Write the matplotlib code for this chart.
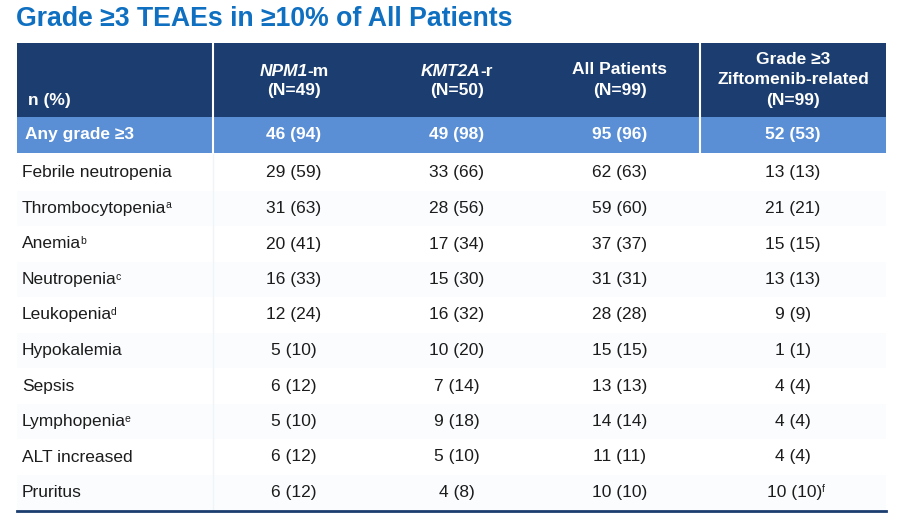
import matplotlib
matplotlib.use("Agg")
import matplotlib.pyplot as plt
from matplotlib.patches import Rectangle

plt.rcParams['font.family'] = ['Liberation Sans', 'DejaVu Sans']

# ---- data ----
title = "Grade \u22653 TEAEs in \u226510% of All Patients"
events = ["Febrile neutropenia", "Thrombocytopenia", "Anemia", "Neutropenia",
          "Leukopenia", "Hypokalemia", "Sepsis", "Lymphopenia", "ALT increased",
          "Pruritus"]
event_notes = ["", "a", "b", "c", "d", "", "", "e", "", ""]
npm1 = ["29 (59)", "31 (63)", "20 (41)", "16 (33)", "12 (24)", "5 (10)", "6 (12)",
        "5 (10)", "6 (12)", "6 (12)"]
kmt2a = ["33 (66)", "28 (56)", "17 (34)", "15 (30)", "16 (32)", "10 (20)", "7 (14)",
         "9 (18)", "5 (10)", "4 (8)"]
all_pts = ["62 (63)", "59 (60)", "37 (37)", "31 (31)", "28 (28)", "15 (15)",
           "13 (13)", "14 (14)", "11 (11)", "10 (10)"]
zifto = ["13 (13)", "21 (21)", "15 (15)", "13 (13)", "9 (9)", "1 (1)", "4 (4)",
         "4 (4)", "4 (4)", "10 (10)"]
zifto_notes = ["", "", "", "", "", "", "", "", "", "f"]
any_label = "Any grade \u22653"
any_row = ["46 (94)", "49 (98)", "95 (96)", "52 (53)"]

NAVY = "#1b3d6f"
LIGHT = "#5a8fd6"
TITLE_C = "#0f6fc0"
TXT = "#1c1c1c"

W, H = 903, 527
fig = plt.figure(figsize=(W / 100, H / 100), dpi=100)
ax = fig.add_axes([0, 0, 1, 1])
ax.set_xlim(0, W)
ax.set_ylim(H, 0)
ax.axis("off")
renderer = fig.canvas.get_renderer()

FS = 12.5
left, right = 17, 886
head_top, head_bot = 43, 117
any_bot = 153
row_h = 35.5
col_x = [22, 294, 457, 620, 793]
seps = [213, 700]


def text_width(t):
    bb = t.get_window_extent(renderer=renderer)
    return bb.width


def pieces(x, y, parts, ha="center"):
    # parts: list of (string, text kwargs, y offset, gap before)
    objs = []
    for s, kw, dy, gap in parts:
        objs.append(ax.text(0, y + dy, s, va="center", ha="left", **kw))
    widths = [text_width(o) for o in objs]
    gaps = [p[3] for p in parts]
    total = sum(widths) + sum(gaps)
    x0 = x - total / 2 if ha == "center" else x
    for o, w, g in zip(objs, widths, gaps):
        x0 += g
        o.set_x(x0)
        x0 += w


# title
ax.text(left - 1, 19, title, fontsize=19.2, fontweight="bold", color=TITLE_C,
        va="center", ha="left")

# header band
ax.add_patch(Rectangle((left, head_top), right - left, head_bot - head_top,
                       color=NAVY, lw=0))
ax.add_patch(Rectangle((left, head_bot), right - left, any_bot - head_bot,
                       color=LIGHT, lw=0))
for sx in seps:
    ax.plot([sx, sx], [head_top, any_bot], color="white", lw=1.5)

hb = dict(fontsize=FS, fontweight="bold", color="white")
hbi = dict(fontsize=FS, fontweight="bold", fontstyle="italic", color="white")
ax.text(28, 100, "n (%)", va="center", ha="left", **hb)
pieces(col_x[1], 72, [("NPM1", hbi, 0, 0), ("-m", hb, 0, 0)])
ax.text(col_x[1], 91, "(N=49)", va="center", ha="center", **hb)
pieces(col_x[2], 72, [("KMT2A", hbi, 0, 0), ("-r", hb, 0, 0)])
ax.text(col_x[2], 91, "(N=50)", va="center", ha="center", **hb)
ax.text(col_x[3], 70, "All Patients", va="center", ha="center", **hb)
ax.text(col_x[3], 91, "(N=99)", va="center", ha="center", **hb)
ax.text(col_x[4], 59, "Grade \u22653", va="center", ha="center", **hb)
ax.text(col_x[4], 80, "Ziftomenib-related", va="center", ha="center", **hb)
ax.text(col_x[4], 101, "(N=99)", va="center", ha="center", **hb)

# any grade row
ym = (head_bot + any_bot) / 2
ax.text(25, ym, any_label, va="center", ha="left", **hb)
for cx, val in zip(col_x[1:], any_row):
    ax.text(cx, ym, val, va="center", ha="center", **hb)

# body rows
body = dict(fontsize=FS, color=TXT)
sup = dict(fontsize=7.5, color=TXT)
y0 = any_bot + 20
for i in range(len(events)):
    y = y0 + i * row_h
    if i % 2 == 1:
        ax.add_patch(Rectangle((left, y - row_h / 2), right - left, row_h,
                               color="#fafcfe", lw=0, zorder=0))
    parts = [(events[i], body, 0, 0)]
    if event_notes[i]:
        parts.append((event_notes[i], sup, -3, -1.2))
    pieces(col_x[0], y, parts, ha="left")
    ax.text(col_x[1], y, npm1[i], va="center", ha="center", **body)
    ax.text(col_x[2], y, kmt2a[i], va="center", ha="center", **body)
    ax.text(col_x[3], y, all_pts[i], va="center", ha="center", **body)
    if zifto_notes[i]:
        pieces(col_x[4] + 3, y, [(zifto[i], body, 0, 0), (zifto_notes[i], sup, -4, -0.8)])
    else:
        ax.text(col_x[4], y, zifto[i], va="center", ha="center", **body)

body_bot = y0 + (len(events) - 0.5) * row_h - 1
ax.plot([seps[0], seps[0]], [any_bot, body_bot], color="#f0f3f8", lw=1, zorder=0.5)
ax.plot([left, right], [body_bot + 2, body_bot + 2], color=NAVY, lw=2)

fig.savefig("out.png", dpi=100)
